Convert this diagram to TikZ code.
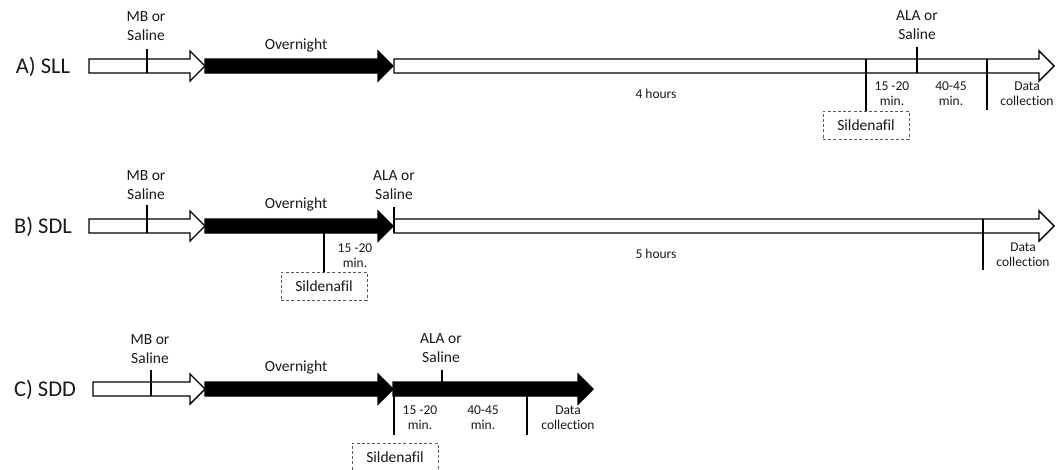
\documentclass[tikz,border=0pt]{standalone}
\usepackage{fontspec}
\setmainfont[Ligatures=NoCommon]{Carlito}
\newcommand{\tlarrow}[4]{%
  \draw[shaft,fill=#4] (#1,#3-7) -- (#2-15,#3-7) -- (#2-15,#3-15) -- (#2,#3)
    -- (#2-15,#3+15) -- (#2-15,#3+7) -- (#1,#3+7) -- cycle;}
\begin{document}
\begin{tikzpicture}[x=1pt,y=-1pt,
  shaft/.style={draw=black, line width=1.4pt, line join=miter},
  tick/.style={draw=black, line width=1.9pt},
  big/.style={font=\fontsize{15.5}{19}\selectfont, align=center, inner sep=0pt, text=black!90},
  small/.style={font=\fontsize{13.5}{15}\selectfont, align=center, inner sep=0pt, text=black!90},
  rowlab/.style={font=\fontsize{22.5}{26}\selectfont, inner sep=0pt, text=black!90},
  drug/.style={draw=black!65, dash pattern=on 3pt off 2.2pt, line width=0.9pt,
    minimum width=86pt, minimum height=28pt, inner sep=0pt,
    font=\fontsize{15.5}{19}\selectfont, text=black!90}]
\useasboundingbox (0,0) rectangle (1062,469);
\fill[white] (0,0) rectangle (1062,469);

% ---------------- Row A ----------------
\node[rowlab] (labA) at (43,67) {A) SLL};
\tlarrow{89}{205}{66}{white}
\tlarrow{205}{393}{66}{black}
\tlarrow{394}{1054}{66}{white}
\node[big] (mbA) at (146,26) {MB or\\Saline};
\coordinate (mbAt) at (147,49); \coordinate (mbAb) at (147,73);
\draw[tick] (mbAt) -- (mbAb);
\node[big] (onA) at (296,45) {Overnight};
\node[small] (hA) at (656,94) {4 hours};
\node[drug] (silA) at (866,125) {Sildenafil};
\coordinate (sAt) at (866,59);
\draw[tick] (sAt) -- (silA.north);
\node[big] (alaA) at (917,25) {ALA or\\Saline};
\coordinate (alaAt) at (917,47); \coordinate (alaAb) at (917,73);
\draw[tick] (alaAt) -- (alaAb);
\coordinate (dAt) at (987,59); \coordinate (dAb) at (987,110);
\draw[tick] (dAt) -- (dAb);
\node[small] (t1A) at (892,94) {15 -20\\min.};
\node[small] (t2A) at (951,94) {40-45\\min.};
\node[small] (dcA) at (1027,94) {Data\\collection};

% ---------------- Row B ----------------
\node[rowlab] (labB) at (43,227) {B) SDL};
\tlarrow{89}{205}{226}{white}
\tlarrow{205}{393}{226}{black}
\tlarrow{394}{1054}{226}{white}
\node[big] (mbB) at (146,185) {MB or\\Saline};
\coordinate (mbBt) at (147,205); \coordinate (mbBb) at (147,233);
\draw[tick] (mbBt) -- (mbBb);
\node[big] (onB) at (296,204) {Overnight};
\node[drug] (silB) at (324,286) {Sildenafil};
\coordinate (sBt) at (324,226);
\draw[tick] (sBt) -- (silB.north);
\node[small] (t1B) at (355,256) {15 -20\\min.};
\node[big] (alaB) at (394,185) {ALA or\\Saline};
\coordinate (alaBt) at (394,207); \coordinate (alaBb) at (394,233);
\draw[tick] (alaBt) -- (alaBb);
\node[small] (hB) at (656,254) {5 hours};
\coordinate (dBt) at (983,219); \coordinate (dBb) at (983,270);
\draw[tick] (dBt) -- (dBb);
\node[small] (dcB) at (1023,255) {Data\\collection};

% ---------------- Row C ----------------
\node[rowlab] (labC) at (45,390) {C) SDD};
\tlarrow{93}{205}{389}{white}
\tlarrow{205}{393}{389}{black}
\tlarrow{393}{593}{389}{black}
\node[big] (mbC) at (150,349) {MB or\\Saline};
\coordinate (mbCt) at (151,370); \coordinate (mbCb) at (151,396);
\draw[tick] (mbCt) -- (mbCb);
\node[big] (onC) at (296,367) {Overnight};
\node[big] (alaC) at (441,348) {ALA or\\Saline};
\coordinate (alaCt) at (442,370); \coordinate (alaCb) at (442,383);
\draw[tick] (alaCt) -- (alaCb);
\coordinate (sCt) at (394,389); \coordinate (sCb) at (394,435);
\draw[tick] (sCt) -- (sCb);
\node[drug] (silC) at (395,457) {Sildenafil};
\coordinate (dCt) at (527,396); \coordinate (dCb) at (527,435);
\draw[tick] (dCt) -- (dCb);
\node[small] (t1C) at (420,418) {15 -20\\min.};
\node[small] (t2C) at (483,418) {40-45\\min.};
\node[small] (dcC) at (568,418) {Data\\collection};
\end{tikzpicture}
\end{document}
